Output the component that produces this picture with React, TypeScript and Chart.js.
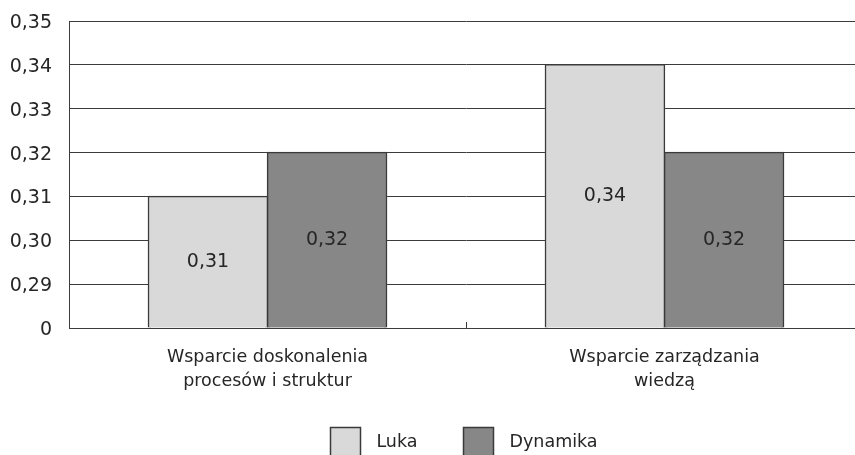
import { useEffect, useRef } from 'react';
import { Chart, registerables } from 'chart.js';

Chart.register(...registerables);

// Chart data
const categories: string[][] = [
  ['Wsparcie doskonalenia', 'procesów i struktur'],
  ['Wsparcie zarządzania', 'wiedzą'],
];
const seriesNames = ['Luka', 'Dynamika'];
const lukaValues = [0.31, 0.34];
const dynamikaValues = [0.32, 0.32];
const yTickLabels = ['0', '0,29', '0,30', '0,31', '0,32', '0,33', '0,34', '0,35'];
const yMin = 0.28;
const yMax = 0.35;
const yStep = 0.01;

// Styling
const FONT = 'DejaVu Sans';
const TEXT_SIZE = 17.5;
const NUM_SIZE = 19;
const TEXT_COLOR = '#262626';
const LINE_COLOR = '#3c3c3c';
const seriesFill = ['#d9d9d9', '#878787'];
const BAR_BORDER = '#3a3a3a';

const CANVAS_W = 863;
const CANVAS_H = 470;
const X_AXIS_H = 80;
const PLOT_BOTTOM = 328;
const PLOT_TOP = 21;

const formatValue = (v: number) => v.toFixed(2).replace('.', ',');

// Value labels centred inside each bar
const valueLabelPlugin = {
  id: 'valueLabels',
  afterDatasetsDraw(chart: any) {
    const ctx = chart.ctx;
    ctx.save();
    ctx.font = `${NUM_SIZE}px "${FONT}"`;
    ctx.fillStyle = TEXT_COLOR;
    ctx.textAlign = 'center';
    ctx.textBaseline = 'middle';
    chart.data.datasets.forEach((ds: any, di: number) => {
      const meta = chart.getDatasetMeta(di);
      meta.data.forEach((bar: any, i: number) => {
        const y = (bar.y + bar.base) / 2;
        ctx.fillText(formatValue(ds.data[i]), bar.x, y);
      });
    });
    ctx.restore();
  },
};

// Short upward tick marks between categories
const categoryTickPlugin = {
  id: 'categoryTicks',
  afterDatasetsDraw(chart: any) {
    const xs = chart.scales.x;
    const ctx = chart.ctx;
    const bottom = chart.chartArea.bottom;
    ctx.save();
    ctx.strokeStyle = LINE_COLOR;
    ctx.lineWidth = 1;
    for (let i = 0; i < xs.ticks.length - 1; i++) {
      const px = Math.round((xs.getPixelForTick(i) + xs.getPixelForTick(i + 1)) / 2) + 0.5;
      ctx.beginPath();
      ctx.moveTo(px, bottom - 6);
      ctx.lineTo(px, bottom);
      ctx.stroke();
    }
    ctx.restore();
  },
};

// Legend row centred under the plot
const legendPlugin = {
  id: 'boxLegend',
  afterDraw(chart: any) {
    const ctx = chart.ctx;
    const area = chart.chartArea;
    const box = 30;
    const gapText = 16;
    const gapItem = 46;
    const centerY = 442;
    ctx.save();
    ctx.font = `${TEXT_SIZE}px "${FONT}"`;
    const items = chart.data.datasets.map((ds: any) => ({
      label: ds.label,
      fill: ds.backgroundColor,
      w: ctx.measureText(ds.label).width,
    }));
    const total =
      items.reduce((s: number, it: any) => s + box + gapText + it.w, 0) + gapItem * (items.length - 1);
    let x = (area.left + area.right) / 2 - total / 2 - 2;
    items.forEach((it: any) => {
      const bx = Math.round(x) + 0.5;
      const by = Math.round(centerY - box / 2) + 0.5;
      ctx.fillStyle = it.fill;
      ctx.fillRect(bx, by, box, box);
      ctx.strokeStyle = BAR_BORDER;
      ctx.lineWidth = 1.5;
      ctx.strokeRect(bx, by, box, box);
      ctx.fillStyle = TEXT_COLOR;
      ctx.textAlign = 'left';
      ctx.textBaseline = 'middle';
      ctx.fillText(it.label, x + box + gapText, centerY);
      x += box + gapText + it.w + gapItem;
    });
    ctx.restore();
  },
};

export default function App() {
  const canvasRef = useRef<HTMLCanvasElement | null>(null);

  useEffect(() => {
    if (!canvasRef.current) return;
    const chart = new Chart(canvasRef.current, {
      type: 'bar',
      data: {
        labels: categories,
        datasets: [
          {
            label: seriesNames[0],
            data: lukaValues,
            backgroundColor: seriesFill[0],
            borderColor: BAR_BORDER,
            borderWidth: 1.5,
            inflateAmount: 0.75,
            base: yMin,
          },
          {
            label: seriesNames[1],
            data: dynamikaValues,
            backgroundColor: seriesFill[1],
            borderColor: BAR_BORDER,
            borderWidth: 1.5,
            inflateAmount: 0.75,
            base: yMin,
          },
        ],
      },
      options: {
        responsive: false,
        animation: false,
        events: [],
        layout: {
          padding: {
            left: 0,
            right: 0,
            top: PLOT_TOP,
            bottom: CANVAS_H - PLOT_BOTTOM - X_AXIS_H,
          },
        },
        datasets: {
          bar: { categoryPercentage: 0.6, barPercentage: 1.0 },
        },
        plugins: {
          legend: { display: false },
          tooltip: { enabled: false },
          title: { display: false },
        },
        scales: {
          x: {
            grid: { display: true, drawOnChartArea: false, drawTicks: false },
            border: { display: true, color: LINE_COLOR, width: 1 },
            ticks: {
              color: TEXT_COLOR,
              font: { family: FONT, size: TEXT_SIZE, lineHeight: 24 / TEXT_SIZE },
              padding: 17,
              maxRotation: 0,
              autoSkip: false,
            },
            afterFit: (s: any) => {
              s.height = X_AXIS_H;
              s.paddingLeft = 0;
              s.paddingRight = 0;
            },
          },
          y: {
            min: yMin,
            max: yMax,
            grid: { color: LINE_COLOR, lineWidth: 1, drawTicks: false },
            border: { display: true, color: LINE_COLOR, width: 1 },
            ticks: {
              stepSize: yStep,
              color: TEXT_COLOR,
              font: { family: FONT, size: NUM_SIZE },
              padding: 17,
              labelOffset: 2,
              callback: (_v: any, i: number) => yTickLabels[i],
            },
            afterFit: (s: any) => {
              s.width = 69;
              s.paddingTop = 0;
              s.paddingBottom = 0;
            },
          },
        },
      },
      plugins: [categoryTickPlugin, valueLabelPlugin, legendPlugin],
    });
    return () => chart.destroy();
  }, []);

  return (
    <div
      style={{
        position: 'fixed',
        left: 0,
        top: 0,
        width: 855,
        height: 455,
        overflow: 'hidden',
        background: '#ffffff',
      }}
    >
      <canvas
        ref={canvasRef}
        width={CANVAS_W}
        height={CANVAS_H}
        style={{ width: CANVAS_W, height: CANVAS_H, display: 'block' }}
      />
    </div>
  );
}
